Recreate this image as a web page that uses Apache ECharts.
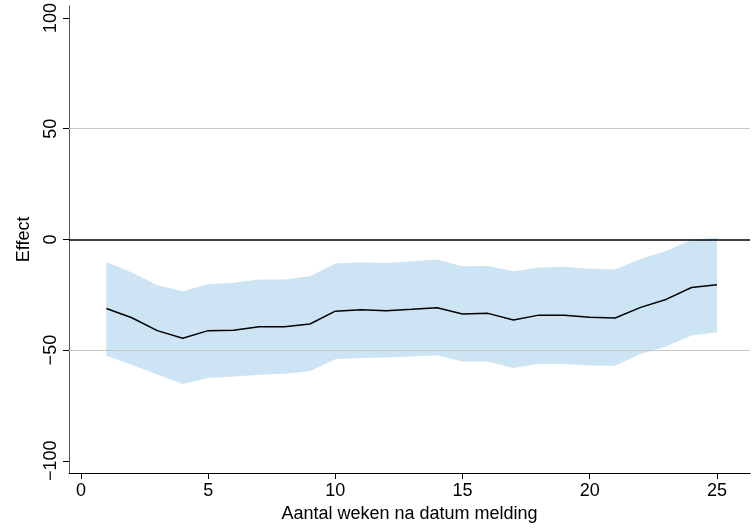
<!DOCTYPE html>
<html>
<head>
<meta charset="utf-8">
<script src="https://cdn.jsdelivr.net/npm/echarts@6/dist/echarts.min.js"></script>
<style>
  html, body { margin: 0; padding: 0; background: #fff; }
  #chart { width: 754px; height: 528px; }
</style>
</head>
<body>
<div id="chart"></div>
<script>
const weeks = [1, 2, 3, 4, 5, 6, 7, 8, 9, 10, 11, 12, 13, 14, 15, 16, 17, 18, 19, 20, 21, 22, 23, 24, 25]
const effect = [-31.2, -35.4, -41.2, -44.6, -41.2, -41.0, -39.5, -39.4, -38.2, -32.4, -31.8, -32.2, -31.6,
  -30.9, -33.7, -33.4, -36.4, -34.2, -34.2, -35.2, -35.5, -30.7, -27.1, -21.7, -20.5]
const upper = [-10.2, -15.0, -20.7, -23.4, -20.2, -19.6, -18.1, -18.1, -16.6, -10.9, -10.3, -10.6, -9.9,
  -9.1, -12.1, -12.0, -14.4, -12.7, -12.4, -13.3, -13.6, -8.8, -5.2, -0.1, 0.8]
const lower = [-52.6, -56.6, -61.0, -65.3, -62.6, -61.9, -61.1, -60.7, -59.5, -54.1, -53.6, -53.3, -52.9,
  -52.3, -55.1, -55.1, -58.1, -56.2, -56.3, -56.9, -57.1, -51.7, -48.4, -43.4, -41.9]
const xTicks = [0, 5, 10, 15, 20, 25]
const yTicks = [-100, -50, 0, 50, 100]
const gridLines = [-50, 50]

const chart = echarts.init(document.getElementById('chart'))
const font = 'Liberation Sans, Arial, Helvetica, sans-serif'

chart.setOption({
  animation: false,
  grid: { left: 69, right: 4, top: 5, bottom: 54 },
  xAxis: {
    type: 'value',
    min: -0.47,
    max: 26.3,
    name: 'Aantal weken na datum melding',
    nameLocation: 'middle',
    nameGap: 32,
    nameTextStyle: { fontFamily: font, fontSize: 18, color: '#000' },
    axisLine: { onZero: false, lineStyle: { color: '#000', width: 1.2 } },
    axisTick: { customValues: xTicks, length: 6, lineStyle: { color: '#000' } },
    axisLabel: { customValues: xTicks, margin: 9, fontFamily: font, fontSize: 18, color: '#000' },
    splitLine: { show: false }
  },
  yAxis: {
    type: 'value',
    min: -105.5,
    max: 105.5,
    name: 'Effect',
    nameLocation: 'middle',
    nameGap: 36,
    nameTextStyle: { fontFamily: font, fontSize: 18, color: '#000' },
    axisLine: { show: true, onZero: false, lineStyle: { color: '#555', width: 1 } },
    axisTick: { show: true, customValues: yTicks, length: 6, lineStyle: { color: '#000' } },
    axisLabel: {
      customValues: yTicks, rotate: 90, margin: 9, fontFamily: font, fontSize: 18, color: '#000',
      formatter: v => String(v).replace('-', '\u2212')
    },
    splitLine: { show: false }
  },
  series: [
    {
      type: 'line',
      data: [],
      z: 1,
      silent: true,
      markLine: {
        symbol: 'none',
        label: { show: false },
        silent: true,
        data: gridLines.map(v => ({ yAxis: v, lineStyle: { color: '#c8c8c8', width: 1.2, type: 'solid' } }))
          .concat([{ yAxis: 0, lineStyle: { color: '#000', width: 1.6, type: 'solid' } }])
      }
    },
    {
      type: 'custom',
      z: 2,
      silent: true,
      data: weeks,
      renderItem: (params, api) => {
        if (params.dataIndex !== 0) return
        const pts = weeks.map((w, i) => api.coord([w, upper[i]]))
        for (let i = weeks.length - 1; i >= 0; i--) pts.push(api.coord([weeks[i], lower[i]]))
        return { type: 'polygon', shape: { points: pts }, style: { fill: '#cde4f4' } }
      }
    },
    {
      type: 'line',
      z: 3,
      data: weeks.map((w, i) => [w, effect[i]]),
      symbol: 'none',
      lineStyle: { color: '#000', width: 1.5 }
    }
  ]
})
</script>
</body>
</html>
